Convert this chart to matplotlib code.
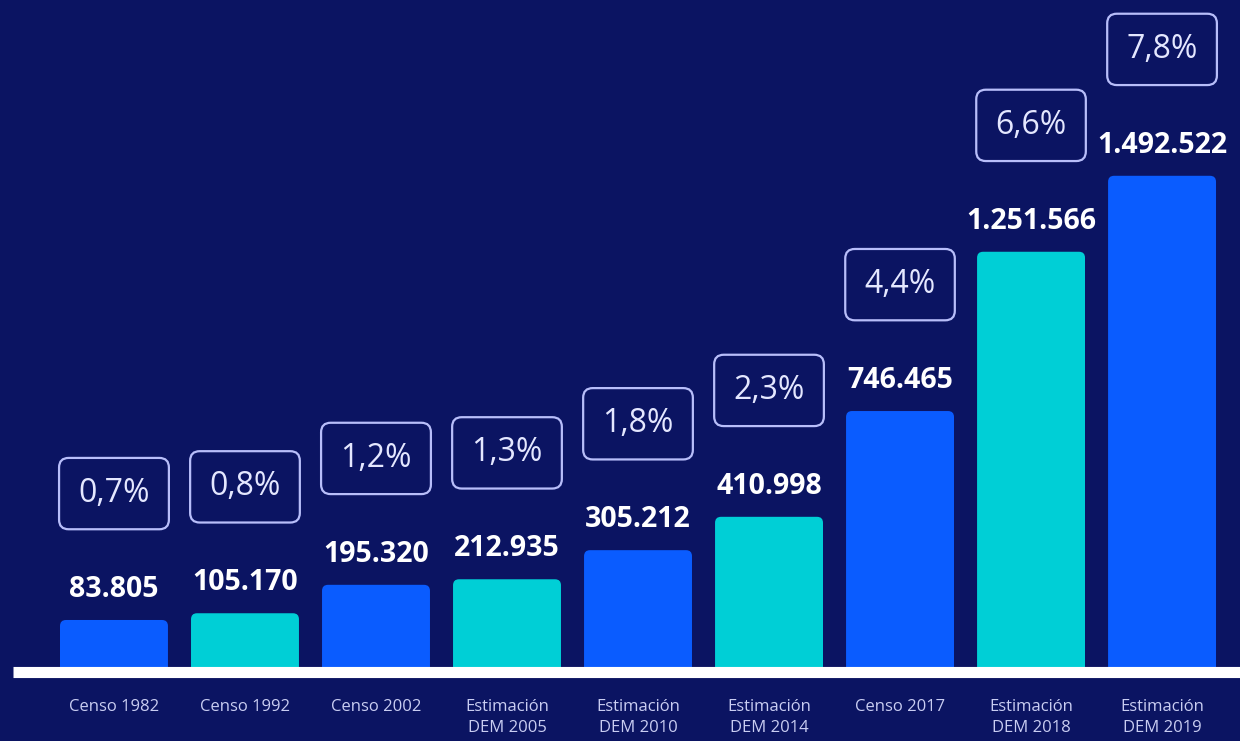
import matplotlib
matplotlib.use("Agg")
import matplotlib.pyplot as plt
from matplotlib.patches import FancyBboxPatch
from matplotlib import font_manager

categories = ["Censo 1982", "Censo 1992", "Censo 2002", "Estimación\nDEM 2005",
              "Estimación\nDEM 2010", "Estimación\nDEM 2014", "Censo 2017",
              "Estimación\nDEM 2018", "Estimación\nDEM 2019"]
values = [83805, 105170, 195320, 212935, 305212, 410998, 746465, 1251566, 1492522]
value_labels = ["83.805", "105.170", "195.320", "212.935", "305.212", "410.998",
                "746.465", "1.251.566", "1.492.522"]
pct_labels = ["0,7%", "0,8%", "1,2%", "1,3%", "1,8%", "2,3%", "4,4%", "6,6%", "7,8%"]

BG = "#0b1462"
BLUE = "#0a5cff"
CYAN = "#00cfd6"
colors = [BLUE if i % 2 == 0 else CYAN for i in range(len(values))]

names = {f.name for f in font_manager.fontManager.ttflist}
main_font = "Open Sans" if "Open Sans" in names else "DejaVu Sans"
narrow = "Liberation Sans Narrow" if "Liberation Sans Narrow" in names else main_font

fig = plt.figure(figsize=(12.4, 7.41), dpi=100, facecolor=BG)
ax = fig.add_axes([0, 0, 1, 1])
ax.set_facecolor(BG)
ax.set_xlim(-0.870, 8.595)
ax.set_ylim(-300000, 2050000)
ax.axis("off")

base = -68500
bottom = -95000
width = 0.824
px_y = 2350000 / 741.0
px_x = 1.0 / 131.0
r = 6 * px_x
aspect = px_y / px_x

for i, (v, c) in enumerate(zip(values, colors)):
    patch = FancyBboxPatch((i - width / 2, bottom), width, v - bottom,
                           boxstyle=f"round,pad=0,rounding_size={r}",
                           mutation_aspect=aspect, facecolor=c, edgecolor="none",
                           zorder=2)
    ax.add_patch(patch)
    ax.annotate(value_labels[i], (i, v), xytext=(0, 16.5), textcoords="offset points",
                ha="center", va="baseline", color="white", fontsize=20.5,
                fontweight="bold", family=main_font, zorder=4)
    ax.annotate(pct_labels[i], (i, v), xytext=(0, 91), textcoords="offset points",
                ha="center", va="center", color="#e4e7ff", fontsize=23,
                family=main_font, zorder=4,
                bbox=dict(boxstyle="round,pad=0.6,rounding_size=0.3",
                          facecolor=BG, edgecolor="#b8befa", linewidth=1.6))
    ax.annotate(categories[i], (i, base), xytext=(0, -22), textcoords="offset points",
                ha="center", va="top", color="#c9cdf2", fontsize=12,
                family=narrow, linespacing=1.45, zorder=4)

ax.axhline((base + bottom) / 2, xmin=13 / 1240, xmax=1.0, color="white",
           linewidth=8, zorder=3, solid_capstyle="butt")

fig.savefig("out.png", dpi=100, facecolor=BG)
